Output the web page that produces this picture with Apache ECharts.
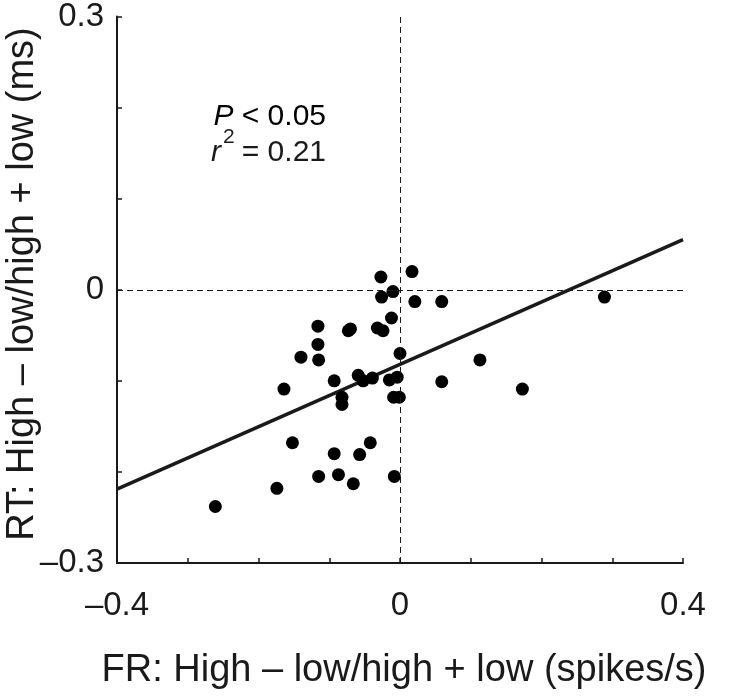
<!DOCTYPE html>
<html>
<head>
<meta charset="utf-8">
<script src="https://cdn.jsdelivr.net/npm/echarts@6/dist/echarts.min.js"></script>
<style>html,body{margin:0;padding:0;background:#fff;}#c{width:737px;height:698px;}</style>
</head>
<body>
<div id="c"></div>
<script>
// FR index (x) and RT index (y) per neuron
var fr = [-0.027, 0.017, -0.010, -0.026, 0.021, 0.059, -0.012, -0.116, -0.073, -0.070,
          -0.032, -0.024, -0.116, -0.140, -0.115, 0.000, -0.059, -0.052, -0.039, -0.093,
          -0.015, -0.004, 0.059, -0.164, -0.082, -0.082, -0.009, -0.001, -0.152, -0.042,
          -0.093, -0.057, -0.115, -0.087, -0.066, -0.008, -0.174, -0.261, 0.289, 0.113, 0.173];
var rt = [0.014, 0.020, -0.002, -0.008, -0.013, -0.013, -0.031, -0.040, -0.045, -0.043,
          -0.042, -0.045, -0.060, -0.074, -0.077, -0.070, -0.094, -0.100, -0.097, -0.100,
          -0.099, -0.096, -0.101, -0.109, -0.118, -0.126, -0.118, -0.118, -0.168, -0.168,
          -0.180, -0.181, -0.205, -0.203, -0.213, -0.205, -0.218, -0.238, -0.008, -0.077, -0.109];
// regression line endpoints
var fitX = [-0.4, 0.4];
var fitY = [-0.219, 0.055];
// tick labels
var xTickLabels = {'-0.4': '\u20130.4', '0': '0', '0.4': '0.4'};
var yTickLabels = {'0.3': '0.3', '0': '0', '-0.3': '\u20130.3'};
var xTitle = 'FR: High \u2013 low/high + low (spikes/s)';
var yTitle = 'RT: High \u2013 low/high + low (ms)';
var statP = ' < 0.05';
var statR = '= 0.21';

var FONT = '"Liberation Sans", Arial, Helvetica, sans-serif';
var INK = '#1a1a1a';

function fmt(map) {
  return function (v) {
    var k = (Math.round(v * 10) / 10).toString();
    if (k === '-0') k = '0';
    return map.hasOwnProperty(k) ? map[k] : '';
  };
}

var pts = fr.map(function (x, i) { return [x, rt[i]]; });
var fit = fitX.map(function (x, i) { return [x, fitY[i]]; });

var chart = echarts.init(document.getElementById('c'), null, {renderer: 'canvas'});
chart.setOption({
  animation: false,
  backgroundColor: '#fff',
  grid: {left: 117, right: 54, top: 8, bottom: 135, containLabel: false},
  xAxis: {
    type: 'value', min: -0.4, max: 0.4, interval: 0.1,
    axisLine: {show: true, onZero: false, lineStyle: {color: INK, width: 2}},
    axisTick: {show: true, inside: true, length: 5, lineStyle: {color: INK, width: 1.5}},
    axisLabel: {show: true, margin: 26, fontSize: 33, fontFamily: FONT, color: INK, formatter: fmt(xTickLabels), showMinLabel: true, showMaxLabel: true},
    splitLine: {show: false}
  },
  yAxis: {
    type: 'value', min: -0.3, max: 0.3, interval: 0.1,
    axisLine: {show: true, onZero: false, lineStyle: {color: INK, width: 2}},
    axisTick: {show: true, inside: true, length: 5, lineStyle: {color: INK, width: 1.5}},
    axisLabel: {show: true, margin: 13, fontSize: 33, fontFamily: FONT, color: INK, formatter: fmt(yTickLabels), showMinLabel: true, showMaxLabel: true},
    splitLine: {show: false}
  },
  series: [
    {
      type: 'line', data: [], silent: true,
      markLine: {
        silent: true, symbol: ['none', 'none'], label: {show: false},
        lineStyle: {color: INK, width: 1, type: [6, 4]},
        data: [{xAxis: 0}, {yAxis: 0}]
      }
    },
    {
      type: 'line', data: fit, symbol: 'none', silent: true, z: 3,
      lineStyle: {color: INK, width: 3.5}
    },
    {
      type: 'scatter', data: pts, symbol: 'circle', symbolSize: 13, z: 4,
      itemStyle: {color: '#000', opacity: 1}
    }
  ],
  graphic: [
    {type: 'text', x: 404, y: 671, style: {text: xTitle, fontSize: 38, fontFamily: FONT, fill: INK, align: 'center', verticalAlign: 'middle'}},
    {type: 'text', x: 23, y: 284, rotation: Math.PI / 2, style: {text: yTitle, fontSize: 38, fontFamily: FONT, fill: INK, align: 'center', verticalAlign: 'middle'}},
    {type: 'text', x: 326, y: 117, style: {text: '{i|P}{n|' + statP + '}', align: 'right', verticalAlign: 'middle',
      rich: {i: {fontSize: 30, fontStyle: 'italic', fontFamily: FONT, color: INK}, n: {fontSize: 30, fontFamily: FONT, color: INK}}}},
    {type: 'text', x: 211, y: 153, style: {text: 'r', fontSize: 30, fontStyle: 'italic', fontFamily: FONT, fill: INK, align: 'left', verticalAlign: 'middle'}},
    {type: 'text', x: 223, y: 137, style: {text: '2', fontSize: 21, fontFamily: FONT, fill: INK, align: 'left', verticalAlign: 'middle'}},
    {type: 'text', x: 326, y: 153, style: {text: statR, fontSize: 30, fontFamily: FONT, fill: INK, align: 'right', verticalAlign: 'middle'}}
  ]
});
</script>
</body>
</html>
